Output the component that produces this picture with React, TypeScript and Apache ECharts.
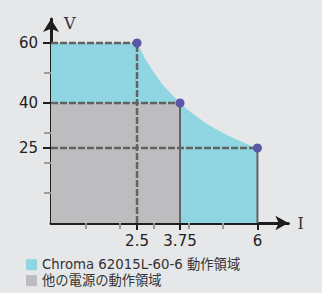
import React, { useEffect, useRef } from "react";
import * as echarts from "echarts";

// Data
const envelope: [number, number][] = [
  [0, 60], [2.5, 60], [2.75, 54.5], [3, 50], [3.25, 46], [3.5, 43], [3.75, 40],
  [4, 37.5], [4.25, 35.3], [4.5, 33.3], [4.75, 31.6], [5, 30], [5.25, 28.6],
  [5.5, 27.3], [5.75, 26.1], [6, 25],
];
const otherRegion: [number, number][] = [[0, 40], [3.75, 40]];
const cornerPoints: [number, number][] = [[2.5, 60], [3.75, 40], [6, 25]];
const xMajorTicks = [2.5, 3.75, 6];
const xMinorTicks = [1, 2, 3, 4, 5];
const yMajorTicks = [25, 40, 60];
const yMinorTicks = [10, 20, 30, 50];
const legendNames = ["Chroma 62015L-60-6 動作領域", "他の電源の動作領域"];
const dashedGuides: [number, number][][] = [
  [[0, 60], [2.5, 60]],
  [[0, 40], [3.75, 40]],
  [[0, 25], [6, 25]],
  [[2.5, 0], [2.5, 60]],
];
const solidGuides: [number, number][][] = [
  [[3.75, 0], [3.75, 40]],
  [[6, 0], [6, 25]],
];

const CYAN = "#90d6e2";
const GRAY = "#bdbdc0";
const GUIDE = "#636363";
const AXIS = "#1e1e1e";
const DOT = "#5b56a8";

export default function App() {
  const ref = useRef<HTMLDivElement>(null);
  useEffect(() => {
    if (!ref.current) return;
    const chart = echarts.init(ref.current, undefined, { renderer: "svg" });
    const labelFont = { fontFamily: "DejaVu Sans", fontSize: 15, color: "#222" };
    const legendText = { fontFamily: "DejaVu Sans, Noto Sans CJK JP", fontSize: 13.3, color: "#333" };
    chart.setOption({
      animation: false,
      backgroundColor: "#e6e7e9",
      grid: { left: 51, top: 19, width: 237.4, height: 204 },
      xAxis: [
        {
          type: "value", min: 0, max: 6.9, position: "bottom",
          name: "I", nameLocation: "end", nameGap: 9,
          nameTextStyle: { fontFamily: "DejaVu Serif", fontSize: 16, color: "#333" },
          axisLine: { show: true, lineStyle: { color: AXIS, width: 3 }, symbol: ["none", "arrow"], symbolSize: [11, 13] },
          axisTick: { show: true, customValues: xMajorTicks, length: 7, lineStyle: { color: AXIS, width: 2 } },
          axisLabel: { show: true, customValues: xMajorTicks, margin: 10, ...labelFont, formatter: (v: number) => String(v) },
          splitLine: { show: false },
        },
        {
          type: "value", min: 0, max: 6.9, position: "bottom",
          axisLine: { show: false },
          axisTick: { show: true, customValues: xMinorTicks, length: 6, lineStyle: { color: "#9a9a9a", width: 2 } },
          axisLabel: { show: false },
          splitLine: { show: false },
        },
      ],
      yAxis: [
        {
          type: "value", min: 0, max: 68, position: "left",
          name: "V", nameLocation: "end", nameGap: -4,
          nameTextStyle: { fontFamily: "DejaVu Serif", fontSize: 16, color: "#333", align: "left", verticalAlign: "middle", padding: [0, 0, 0, 13] },
          axisLine: { show: true, lineStyle: { color: AXIS, width: 3 }, symbol: ["none", "arrow"], symbolSize: [12, 13] },
          axisTick: { show: true, customValues: yMajorTicks, length: 8, lineStyle: { color: AXIS, width: 2 } },
          axisLabel: { show: true, customValues: yMajorTicks, margin: 13, ...labelFont },
          splitLine: { show: false },
        },
        {
          type: "value", min: 0, max: 68, position: "left", offset: 0,
          axisLine: { show: false },
          axisTick: { show: true, customValues: yMinorTicks, length: 7, lineStyle: { color: "#9a9a9a", width: 2 } },
          axisLabel: { show: false },
          splitLine: { show: false },
        },
      ],
      legend: [
        {
          left: 26, top: 258, itemWidth: 11, itemHeight: 11, icon: "rect", padding: 0,
          textStyle: legendText,
          data: [{ name: legendNames[0], itemStyle: { color: CYAN } }],
        },
        {
          left: 26, top: 274, itemWidth: 11, itemHeight: 11, icon: "rect", padding: 0,
          textStyle: legendText,
          data: [{ name: legendNames[1], itemStyle: { color: GRAY } }],
        },
      ],
      series: [
        {
          type: "line", name: legendNames[0], data: envelope, showSymbol: false, z: 1,
          itemStyle: { color: CYAN }, lineStyle: { width: 0, color: CYAN },
          areaStyle: { color: CYAN, opacity: 1 },
        },
        {
          type: "line", name: legendNames[1], data: otherRegion, showSymbol: false, z: 2,
          itemStyle: { color: GRAY }, lineStyle: { width: 0, color: GRAY },
          areaStyle: { color: GRAY, opacity: 1 },
        },
        ...dashedGuides.map((d) => ({
          type: "line", data: d, showSymbol: false, z: 3, silent: true,
          lineStyle: { color: GUIDE, width: 2.5, type: [7, 2] },
        })),
        ...solidGuides.map((d) => ({
          type: "line", data: d, showSymbol: false, z: 3, silent: true,
          lineStyle: { color: GUIDE, width: 2, type: "solid" },
        })),
        {
          type: "scatter", data: cornerPoints, symbolSize: 9, z: 5,
          itemStyle: { color: DOT, opacity: 1 },
        },
      ],
    });
    return () => chart.dispose();
  }, []);
  return <div ref={ref} style={{ position: "fixed", left: 0, top: 0, width: 322, height: 293 }} />;
}
